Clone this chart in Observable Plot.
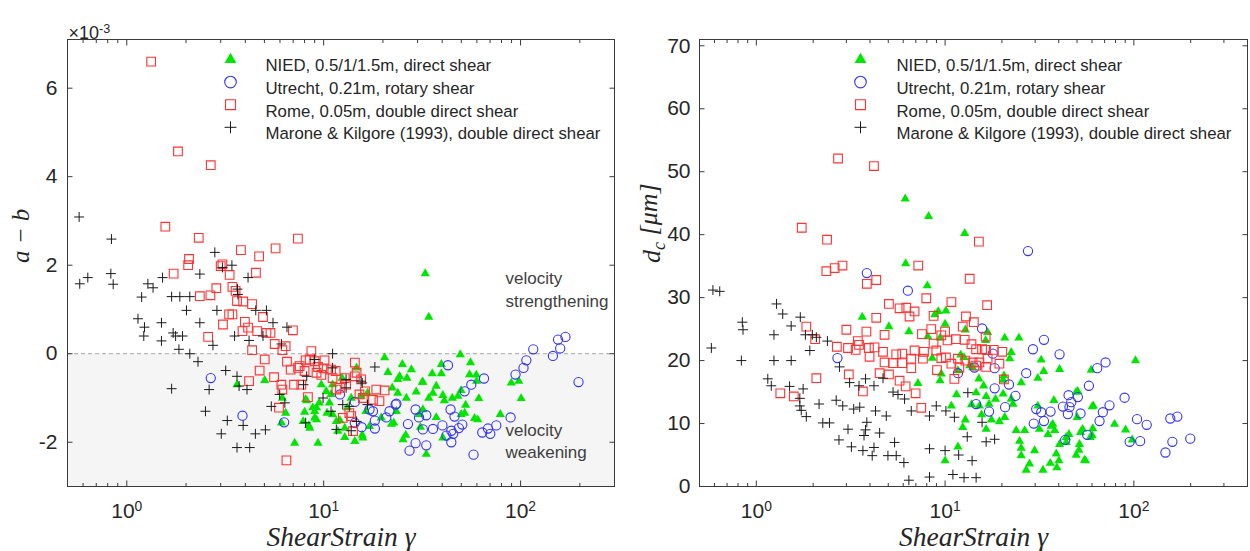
<!DOCTYPE html>
<html>
<head>
<meta charset="utf-8">
<script src="https://cdn.jsdelivr.net/npm/d3@7"></script>
<script src="https://cdn.jsdelivr.net/npm/@observablehq/plot@0.6"></script>
<style>
  html, body { margin: 0; padding: 0; background: #fff; }
  #wrap { display: flex; width: 1250px; height: 551px; }
</style>
</head>
<body>
<div id="wrap"></div>
<script>
// ---------------- tick definitions ----------------
const xTicks = [1, 10, 100];
const xTickLabels = ["10^0", "10^1", "10^2"];
const xMinorLeft = [0.5, 0.6, 0.7, 0.8, 0.9, 2, 3, 4, 5, 6, 7, 8, 9, 20, 30, 40, 50, 60, 70, 80, 90, 200, 300];
const xMinorRight = [0.5, 0.6, 0.7, 0.8, 0.9, 2, 3, 4, 5, 6, 7, 8, 9, 20, 30, 40, 50, 60, 70, 80, 90, 200, 300, 400];
const yTicksLeft = [-2, 0, 2, 4, 6];
const yTicksRight = [0, 10, 20, 30, 40, 50, 60, 70];

const legendLabels = [
  "NIED, 0.5/1/1.5m, direct shear",
  "Utrecht, 0.21m, rotary shear",
  "Rome, 0.05m, double direct shear",
  "Marone & Kilgore (1993), double direct shear"
];
const annotationLines = ["velocity", "strengthening", "velocity", "weakening"];

// ---------------- left panel: a-b (x10^-3) ----------------
const niedAB = [[3.63,-0.7],[5.02,-0.6],[6.17,-1.0],[6.41,-1.34],[6.1,-1.56],[7.12,-2.02],[8.1,-1.03],[8.0,-1.32],[7.87,-1.53],[8.4,-1.62],[9.0,-1.45],[9.2,-1.22],[9.36,-2.02],[9.73,-0.7],[9.5,-1.11],[8.2,-1.06],[9.0,-1.3],[9.2,-1.49],[8.5,-1.68],[10.7,-1.11],[10.4,-1.34],[11.6,-1.53],[12.8,-1.68],[12.8,-1.89],[14.4,-1.98],[15.7,-1.84],[11.8,-1.75],[10.9,-0.92],[14.7,-0.32],[20.4,-0.09],[21.2,-0.42],[23.8,-0.58],[19.6,-1.45],[22.1,-1.59],[16.4,-1.3],[17.1,-1.64],[13.2,-1.22],[12.4,-0.55],[13.8,-1.0],[15.5,-0.96],[16.7,-0.89],[11.1,-0.7],[10.3,-0.85],[8.8,-1.22],[11.1,-1.37],[12.1,-1.51],[15.8,-1.9],[32.8,1.81],[34.2,0.83],[49.4,-0.02],[55.7,-0.2],[39.6,-0.24],[27.9,-0.36],[25.1,-0.24],[35.6,-0.45],[39.6,-0.45],[55.1,-0.47],[59.6,-0.48],[24.3,-0.51],[31.7,-0.64],[37.3,-0.73],[59.8,-0.62],[89.7,-0.66],[98,-0.62],[100.7,-1.01],[23.8,-0.89],[26.3,-1.0],[29.5,-0.86],[34.2,-1.0],[35.9,-0.89],[40.3,-0.94],[41,-1.06],[45,-1.0],[48.1,-0.96],[49.9,-0.83],[61.4,-1.01],[52.6,-1.16],[52,-1.34],[49.9,-1.37],[58.4,-1.46],[60.6,-1.49],[78.9,-1.37],[37.3,-1.44],[31.9,-1.26],[30.6,-1.37],[23.4,-1.3],[22.7,-1.56],[31,-1.66],[40.3,-1.9],[26.1,-1.84],[25.3,-1.94],[33.2,-2.27],[26.5,-0.55],[31.9,-0.64],[22.3,-0.77]];
const utrechtAB = [[2.67,-0.55],[3.87,-1.4],[6.3,-1.55],[12.1,-0.92],[14.4,-1.09],[17.8,-1.3],[18.2,-1.51],[18.2,-1.69],[20.8,-1.44],[23.2,-1.15],[15.6,-1.66],[14.4,-1.56],[17.1,-1.26],[21.6,-1.3],[42.8,-0.26],[65.2,-0.56],[56.2,-0.7],[52,-0.85],[94.3,-0.47],[103.5,-0.32],[107,-0.15],[116,0.1],[146,-0.05],[155,0.32],[169,0.38],[159,0.12],[197,-0.64],[89,-1.44],[75.3,-1.62],[68.3,-1.69],[63.9,-1.78],[70.2,-1.81],[57.7,-2.28],[44.1,-1.26],[46.2,-1.42],[48.6,-1.68],[50.6,-1.6],[44.5,-1.74],[42,-1.85],[45.5,-1.81],[44.5,-2.0],[40.1,-1.62],[35.9,-1.7],[31.9,-1.71],[33.2,-2.07],[29.3,-2.02],[27.3,-2.19],[26.8,-1.59],[30.5,-1.44],[33.2,-1.39],[29.3,-1.26],[23.4,-1.13]];
const romeAB = [[1.33,6.6],[1.82,4.57],[2.67,4.26],[1.57,2.87],[2.32,2.62],[2.07,2.14],[2.05,2.0],[1.73,1.81],[3.06,2.02],[3.0,1.98],[3.33,1.78],[3.8,2.34],[4.7,2.2],[4.53,1.83],[5.7,2.38],[7.4,2.6],[2.35,1.3],[2.66,1.32],[2.85,1.48],[3.44,1.51],[3.57,1.42],[3.63,1.19],[3.9,1.18],[4.33,1.12],[3.31,0.89],[3.44,0.89],[3.08,0.66],[3.98,0.72],[3.87,0.51],[4.13,0.59],[4.92,0.83],[4.6,0.51],[5.12,0.47],[5.37,0.47],[2.59,0.38],[4.33,0.08],[5.64,0.22],[6.41,0.17],[6.17,0.08],[6.98,0.53],[5.02,-0.13],[4.73,-0.38],[4.18,-0.62],[5.6,-0.53],[6.51,-0.18],[6.8,-0.36],[6.1,-0.7],[6.17,-0.81],[5.93,-1.22],[6.47,-2.41],[8.66,0.06],[8.1,-0.15],[7.41,-0.32],[7.07,-0.7],[7.7,-0.7],[8.32,-0.98],[8.0,-0.39],[10.1,-0.15],[9.0,-0.17],[8.49,-0.13],[7.55,-0.28],[9.36,-0.3],[10,-0.33],[10.9,-0.36],[11.5,-0.39],[9.2,-0.43],[9.73,-0.48],[11.1,-0.55],[12.8,-0.55],[14.4,-0.2],[14.7,-0.43],[14.4,-0.51],[15.5,-0.58],[16.2,-0.85],[12.1,-0.77],[11.6,-0.81],[13.0,-0.7],[18.5,-0.81],[20.4,-0.83],[19.2,-1.07],[17.8,-1.04],[15.2,-0.92],[15.8,-1.0],[13.5,-1.34],[13.8,-1.41],[14.1,-1.75],[12.5,-1.45]];
const maroneAB = [[0.573,3.09],[0.836,2.59],[0.634,1.72],[0.83,1.81],[2.8,2.29],[2.35,1.8],[3.42,2.0],[3.06,1.95],[4.13,1.72],[1.52,1.72],[0.577,1.58],[0.853,1.57],[1.28,1.58],[1.36,1.49],[1.19,1.28],[1.69,1.29],[1.86,1.29],[2.09,1.29],[2.01,0.98],[2.87,0.98],[3.65,1.46],[3.67,1.34],[4.52,0.98],[5.12,0.98],[1.14,0.79],[1.23,0.6],[1.22,0.4],[1.5,0.7],[1.5,0.29],[1.72,0.47],[1.77,0.4],[1.92,0.4],[1.84,0.1],[2.35,0.7],[2.74,0.19],[3.53,0.4],[4.18,0.3],[4.92,0.4],[5.53,0.7],[6.51,0.6],[6.1,0.22],[2.09,0.0],[2.3,-0.18],[1.69,-0.79],[3.18,-0.38],[3.63,-0.51],[2.62,-0.81],[3.72,-0.73],[4.08,-0.81],[2.51,-1.3],[3.24,-1.51],[3.9,-1.62],[3.02,-1.81],[4.5,-1.81],[5.06,-1.72],[3.63,-2.12],[4.21,-2.12],[5.42,-1.19],[5.98,-0.92],[9.0,-0.13],[11.1,0.0],[18.2,-0.3],[8.2,-0.51],[7.9,-0.7],[15.7,-0.66],[13,-0.77],[9.93,-1.0],[10.9,-1.3],[12.5,-1.15],[11.6,-1.71],[13.8,-1.74],[14.7,-1.53],[16.7,-1.15],[8.1,-1.56],[6.35,-1.11],[11.1,-0.32],[13,-0.58],[13.5,-1.19],[15.5,-0.62]];

// ---------------- right panel: dc (um) ----------------
const niedDc = [[6.15,45.7],[8.18,42.9],[6.18,35.4],[12.7,40.2],[3.64,26.9],[8.05,31.9],[5.04,25.4],[6.43,24.6],[8.1,23.8],[8.82,27.3],[10.1,27.9],[10,25.8],[7.18,16.4],[8.55,20.4],[9.55,17.9],[9.4,16.8],[9.2,27.8],[12.8,24.9],[12.1,20.9],[12.6,20.5],[16.4,23.2],[20.7,23.6],[24.6,23.6],[22.4,21.3],[22,20.3],[13.5,19.2],[15.1,17.1],[25.3,16.5],[20.5,17.6],[20.3,16.9],[11.5,14.6],[14.6,14.9],[16.5,14.3],[18.5,13.9],[20.3,14.7],[22.4,13.9],[22.9,13.1],[10.8,12.8],[15.2,12.8],[12.8,10.6],[15.6,11.4],[17.6,10.6],[19.4,10.3],[16.5,9.1],[12.4,9.4],[11.7,6.3],[23.8,8.9],[26.4,8.9],[24.8,7.2],[25.3,6.1],[29.8,5.7],[28,3.6],[26.9,2.6],[16.0,16.0],[32.3,20.1],[33.3,18.3],[40.4,18.6],[31,17.2],[59.4,18.5],[102,20.0],[50.5,15.1],[37.7,13.7],[60.2,12.7],[31,12.8],[79,9.9],[90.4,9.0],[98,7.4],[31.6,9.1],[36.5,9.6],[35.1,8.3],[43.8,7.8],[52.2,8.6],[53.5,9.1],[60.6,9.2],[58.7,7.8],[40.4,6.7],[51.5,6.7],[51.2,5.8],[49.5,5.0],[38.8,5.2],[40.1,4.1],[39.1,3.0],[36.1,3.7],[33,2.6],[55.5,4.1],[25.3,4.9],[37.2,9.9],[38.1,8.9],[45.3,8.3],[43.8,7.0],[49.5,15],[50.1,11.0],[54.8,4.2],[61,12.8],[60.2,8.1],[13.8,13.0],[17.1,13.1],[20.7,11.0],[10,4.1],[9.4,23.6],[11.7,18.4],[16.8,24.5],[14,18.9]];
const utrechtDc = [[3.85,33.9],[27.5,37.4],[2.69,20.4],[6.35,31.1],[15.7,25.1],[29.2,21.8],[26.9,18.0],[18.3,15.6],[21.8,16.2],[23.6,14.4],[20.8,12.6],[17.1,11.9],[14.6,13.1],[30.4,12.3],[29.5,10.0],[17.9,21.1],[18.3,18.8],[14.3,18.9],[11.7,18.0],[33.4,23.3],[40.4,21.0],[64,18.8],[70.8,19.7],[57.8,16.0],[45.1,14.5],[50.5,14.2],[46.6,13.4],[42.1,12.7],[45.6,12.6],[52.2,11.6],[44.7,11.5],[36.2,11.9],[32.3,11.8],[33.4,10.4],[68.5,11.8],[74.3,12.9],[65.8,10.4],[89.3,14.1],[104,10.7],[117,9.8],[156,10.8],[170,11.1],[199,7.6],[160,7.1],[147,5.4],[108,7.2],[95,7.1],[56.6,8.2],[43.3,7.4]];
const romeDc = [[2.71,52.1],[4.2,50.9],[1.74,41.1],[2.37,39.2],[2.35,34.2],[2.6,34.7],[2.86,35.1],[7.21,35.1],[4.32,32.8],[15.1,38.9],[13.5,33.0],[3.85,32.2],[5.04,29.0],[5.74,28.3],[6.23,28.4],[6.48,27.0],[6.89,27.8],[7.95,29.9],[8.69,27.1],[8.45,25.0],[8.69,22.7],[7.54,24.2],[10,24.6],[9.55,24.0],[10.3,23.2],[4.32,26.8],[3.83,24.6],[3.0,24.9],[4.78,24.1],[1.84,25.4],[2.05,23.4],[2.67,22.2],[3.06,22.0],[3.36,21.7],[3.5,22.5],[3.45,23.1],[3.95,22.0],[4.23,22.1],[3.98,20.6],[4.69,21.4],[4.78,19.7],[5.3,19.6],[5.51,21.0],[5.93,21.1],[5.93,19.6],[6.62,20.3],[6.89,21.6],[6.62,18.8],[7.73,21.4],[7.63,20.3],[8.98,21.6],[9.06,18.5],[9.55,20.4],[10.1,20.5],[4.5,18.0],[5.04,17.8],[5.74,16.8],[6.18,15.9],[6.98,14.8],[3.67,15.1],[3.09,17.8],[2.08,17.2],[1.58,14.3],[1.34,14.8],[7.48,12.5],[16.7,28.8],[10.8,29.3],[12.9,27.0],[14.2,26.1],[12.4,25.4],[16.4,23.8],[11.4,23.4],[13.8,22.6],[14.6,21.8],[15.7,21.8],[16.5,21.7],[18.1,21.7],[20.1,21.4],[19.4,19.5],[16.8,20.3],[15.2,19.7],[16.5,19.0],[14.6,19.2],[14,19.7],[12.8,20.0],[11.7,20.3],[10.8,19.5],[20.5,17.0],[12.7,23.3],[11.2,17.1],[11.9,18.9]];
const maroneDc = [[0.578,22.0],[0.589,31.2],[0.64,31.0],[0.843,26.1],[0.85,24.9],[0.833,20.0],[1.28,29.0],[1.38,27.4],[1.24,24.1],[1.24,20.0],[1.53,20.0],[1.53,25.5],[1.71,26.9],[1.82,24.1],[1.98,24.1],[2.08,23.7],[1.92,21.6],[2.38,23.1],[1.15,17.1],[1.2,16.0],[1.5,15.9],[1.77,15.5],[1.7,14.0],[1.7,12.8],[1.73,12.1],[1.84,11.1],[2.15,13.1],[2.25,10.1],[2.44,10.1],[2.76,19.0],[3.12,16.5],[3.5,16.0],[3.79,17.1],[4.2,16.0],[4.69,17.2],[2.65,13.7],[2.87,12.8],[3.28,12.3],[3.53,12.6],[4.28,12.0],[4.88,11.2],[3.85,10.2],[3.79,9.0],[3.72,8.1],[4.5,8.5],[3.06,9.1],[2.74,7.4],[3.19,6.3],[3.67,5.7],[4.2,6.2],[4.11,4.9],[4.98,4.9],[5.51,4.9],[5.4,7.0],[6.05,3.8],[5.3,15.0],[5.63,14.6],[6.1,13.9],[6.62,12.0],[6.43,1.0],[8.27,6.0],[10.0,5.7],[8.27,1.5],[8.98,12.8],[8.27,11.2],[10.1,12.0],[13.2,14.9],[11.2,11.0],[13.1,7.9],[15.7,10.2],[16.5,7.1],[18.3,7.5],[13.9,4.1],[11,1.9],[12.6,1.4],[14.6,1.4],[11.8,5.0]];

// ---------------- styling ----------------
const SANS = "'Liberation Sans', Arial, Helvetica, sans-serif";
const SERIF = "'Liberation Serif', 'Times New Roman', serif";
const INK = "#262626";
const AXC = "#3a3a3a";
const styles = [
  {symbol: "triangle", fill: "#00e600", stroke: "none", r: 3.4, lr: 4.4, sw: 0},
  {symbol: "circle", fill: "none", stroke: "#3333ff", r: 4.6, lr: 5.8, sw: 1.1},
  {symbol: "square", fill: "none", stroke: "#ff3333", r: 4.9, lr: 5.6, sw: 1.1},
  {symbol: "plus", fill: "none", stroke: "#1a1a1a", r: 3.3, lr: 3.9, sw: 1}
];

const toRows = (arr) => arr.map(([x, y]) => ({x, y}));

function seriesMarks(seriesList) {
  return seriesList.map((arr, i) => {
    const s = styles[i];
    return Plot.dot(toRows(arr), {
      x: "x", y: "y", symbol: s.symbol, r: s.r,
      fill: s.fill, stroke: s.stroke, strokeWidth: s.sw
    });
  });
}

function legendMarks(dxMarker, dxText) {
  const marks = [];
  legendLabels.forEach((label, i) => {
    const s = styles[i];
    const dy = 20 + i * 22.6;
    marks.push(Plot.dot([label], {
      frameAnchor: "top-left", dx: dxMarker, dy, symbol: s.symbol, r: s.lr,
      fill: s.fill, stroke: s.stroke, strokeWidth: s.sw
    }));
    marks.push(Plot.text([label], {
      frameAnchor: "top-left", dx: dxText, dy, text: d => d, textAnchor: "start",
      fontSize: 16.8, fill: INK, fontFamily: SANS
    }));
  });
  return marks;
}

function frameAxes(minor, yTicks, tickPad) {
  const blank = () => "";
  return [
    Plot.frame({stroke: AXC, strokeWidth: 1}),
    Plot.axisX(xTicks, {anchor: "bottom", tickSize: -5.5, tickFormat: blank, stroke: AXC, label: null}),
    Plot.axisX(xTicks, {anchor: "top", tickSize: -5.5, tickFormat: blank, stroke: AXC, label: null}),
    Plot.axisX(minor, {anchor: "bottom", tickSize: -3, tickFormat: blank, stroke: AXC, label: null}),
    Plot.axisX(minor, {anchor: "top", tickSize: -3, tickFormat: blank, stroke: AXC, label: null}),
    Plot.axisX(xTicks, {anchor: "bottom", tickSize: 0, tickPadding: 17, label: null,
      tickFormat: d => xTickLabels[xTicks.indexOf(d)], fontSize: 21, fill: INK, fontFamily: SANS}),
    Plot.axisY(yTicks, {anchor: "left", tickSize: -5.5, tickFormat: blank, stroke: AXC, label: null}),
    Plot.axisY(yTicks, {anchor: "right", tickSize: -5.5, tickFormat: blank, stroke: AXC, label: null}),
    Plot.axisY(yTicks, {anchor: "left", tickSize: 0, tickPadding: tickPad, label: null,
      tickFormat: d => String(d), fontSize: 21, fill: INK, fontFamily: SANS})
  ];
}

const common = {width: 625, height: 551, marginTop: 39, marginBottom: 65,
  style: {fontFamily: SANS, background: "white", overflow: "visible", color: INK}};

const xLabel = () => Plot.text(["ShearStrain γ"], {frameAnchor: "bottom", dy: 51, text: d => d,
  fontSize: 27.5, fontStyle: "italic", fontFamily: SERIF, fill: INK, lineAnchor: "middle"});

const left = Plot.plot({
  ...common, marginLeft: 67, marginRight: 11,
  x: {type: "log", domain: [0.5, 300], axis: null},
  y: {domain: [-3, 7.1], axis: null},
  marks: [
    Plot.rect([0], {x1: () => 0.5, x2: () => 300, y1: () => -3, y2: () => 0, fill: "#f5f5f5"}),
    Plot.ruleY([0], {stroke: "#a8a8a8", strokeDasharray: "4,3", strokeWidth: 1}),
    ...seriesMarks([niedAB, utrechtAB, romeAB, maroneAB]),
    ...frameAxes(xMinorLeft, yTicksLeft, 10),
    ...legendMarks(163, 198),
    Plot.text(annotationLines, {
      frameAnchor: "top-right", dx: -109, dy: 0, text: d => d, textAnchor: "start",
      fontSize: 17, fill: "#404040", fontFamily: SANS
    }),
    Plot.text(["×10^-3"], {frameAnchor: "top-left", dx: 1, dy: -13, text: d => d, textAnchor: "start",
      fontSize: 18, fill: INK, fontFamily: SANS}),
    Plot.text(["a − b"], {frameAnchor: "left", dx: -47, rotate: -90, text: d => d,
      fontSize: 25, fontStyle: "italic", fontFamily: SERIF, fill: INK}),
    xLabel()
  ]
});

const right = Plot.plot({
  ...common, marginLeft: 74, marginRight: 3,
  x: {type: "log", domain: [0.5, 400], axis: null},
  y: {domain: [0, 71], axis: null},
  marks: [
    ...seriesMarks([niedDc, utrechtDc, romeDc, maroneDc]),
    ...frameAxes(xMinorRight, yTicksRight, 9),
    ...legendMarks(161, 197),
    Plot.text(["d_c [μm]"], {frameAnchor: "left", dx: -48, rotate: -90, text: d => d,
      fontSize: 26, fontStyle: "italic", fontFamily: SERIF, fill: INK}),
    xLabel()
  ]
});

// ---------- post-processing of rich text (superscripts / subscripts) ----------
const NS = "http://www.w3.org/2000/svg";
function tspan(txt, attrs) {
  const t = document.createElementNS(NS, "tspan");
  t.textContent = txt;
  for (const k in attrs) t.setAttribute(k, attrs[k]);
  return t;
}
function textsMatching(svg, pred) {
  return Array.from(svg.querySelectorAll("text")).filter(t => pred(t.textContent));
}
function superscriptify(texts, supSize) {
  texts.forEach(t => {
    const s = t.textContent;
    const [b, e] = s.split("^");
    t.textContent = "";
    t.appendChild(tspan(b, {}));
    t.appendChild(tspan(e, {dy: "-0.5em", "font-size": supSize}));
  });
}
superscriptify(textsMatching(left, s => /^10\^\d$/.test(s)), "0.66em");
superscriptify(textsMatching(right, s => /^10\^\d$/.test(s)), "0.66em");
superscriptify(textsMatching(left, s => s.startsWith("×10^")), "0.7em");

// annotation lines: vertical offsets per line
const annotY = [232, 255, 384, 406];
textsMatching(left, s => annotationLines.includes(s)).forEach((t, i) => {
  const tr = t.getAttribute("transform") || "";
  t.setAttribute("transform", tr + ` translate(0,${annotY[i]})`);
});

// d_c subscript
textsMatching(right, s => s === "d_c [μm]").forEach(t => {
  t.textContent = "";
  t.appendChild(tspan("d", {}));
  t.appendChild(tspan("c", {dy: "0.3em", "font-size": "0.7em"}));
  t.appendChild(tspan(" [μm]", {dy: "-0.3em"}));
});

document.getElementById("wrap").append(left, right);
</script>
</body>
</html>
